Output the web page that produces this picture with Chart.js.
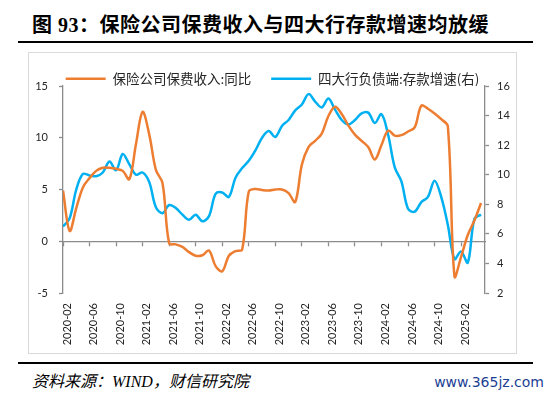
<!DOCTYPE html>
<html>
<head>
<meta charset="utf-8">
<script src="https://cdn.jsdelivr.net/npm/chart.js@4.4.0/dist/chart.umd.min.js"></script>
<style>
  html, body { margin: 0; padding: 0; background: #fff; }
  body { width: 550px; height: 398px; position: relative; overflow: hidden; }
  .title { position: absolute; left: 32px; top: 14px; font: bold 20px/22px 'Liberation Serif', 'Noto Sans CJK SC', serif; letter-spacing: 0.5px; color: #000; white-space: nowrap; }
  .rule { position: absolute; left: 18px; width: 515px; height: 2px; background: #000; }
  .box { position: absolute; left: 28px; top: 52px; width: 489px; height: 302px; border: 1px solid #d9d9d9; box-sizing: border-box; }
  .wrap { position: relative; width: 487px; height: 300px; }
  .source { position: absolute; left: 32px; top: 372px; font: italic 16px/20px 'Liberation Serif', 'Noto Sans CJK SC', serif; color: #000; white-space: nowrap; }
  .site { position: absolute; right: 6px; top: 373px; font: 14px/18px 'DejaVu Sans', sans-serif; color: #1c3f94; }
</style>
</head>
<body>
<div class="title">图 93：保险公司保费收入与四大行存款增速均放缓</div>
<div class="rule" style="top:41px"></div>
<div class="box"><div class="wrap"><canvas id="chart"></canvas></div></div>
<div class="rule" style="top:362px"></div>
<div class="source">资料来源：WIND，财信研究院</div>
<div class="site">www.365jz.com</div>

<script>
// monthly, 2020-02 .. 2025-05
const months = [
    '2020-02', '2020-03', '2020-04', '2020-05', '2020-06', '2020-07', '2020-08', '2020-09', '2020-10', '2020-11', '2020-12',
    '2021-01', '2021-02', '2021-03', '2021-04', '2021-05', '2021-06', '2021-07', '2021-08', '2021-09', '2021-10', '2021-11', '2021-12',
    '2022-01', '2022-02', '2022-03', '2022-04', '2022-05', '2022-06', '2022-07', '2022-08', '2022-09', '2022-10', '2022-11', '2022-12',
    '2023-01', '2023-02', '2023-03', '2023-04', '2023-05', '2023-06', '2023-07', '2023-08', '2023-09', '2023-10', '2023-11', '2023-12',
    '2024-01', '2024-02', '2024-03', '2024-04', '2024-05', '2024-06', '2024-07', '2024-08', '2024-09', '2024-10', '2024-11', '2024-12',
    '2025-01', '2025-02', '2025-03', '2025-04', '2025-05'
];

// 保险公司保费收入:同比 (left axis, %)
const premiumYoY = [
    4.9, 1.0, 3.2, 5.2, 6.1, 6.8, 7.1, 7.1, 7.0, 6.8,
    6.0, 9.4, 12.5, 10.3, 6.9, 5.6, -0.2, -0.3, -0.55, -1.05,
    -1.4, -1.35, -0.9, -2.4, -2.9, -1.4, -0.95, -0.8, 4.8, 5.05,
    4.95, 4.9, 5.0, 5.0, 4.65, 3.8, 7.4, 9.1, 9.7, 10.4,
    12.1, 13.0, 12.3, 11.2, 10.3, 9.7, 9.1, 7.9, 9.3, 10.7,
    10.2, 10.25, 10.6, 11.0, 13.1, 12.8, 12.35, 11.8, 11.1, -3.4,
    -1.5, 0.6, 2.0, 3.7
];

// 四大行负债端:存款增速 (right axis, %)
const depositGrowth = [
    6.5, 7.05, 9.0, 10.05, 9.95, 9.9, 10.15, 10.9, 10.3, 11.4,
    10.7, 10.0, 10.15, 9.5, 7.8, 7.4, 7.95, 7.75, 7.3, 6.95,
    7.3, 6.85, 7.2, 8.7, 8.8, 8.5, 9.8, 10.45, 10.95, 11.65,
    12.5, 12.95, 12.55, 13.3, 13.7, 14.35, 14.75, 15.45, 14.95, 14.55,
    15.15, 14.4, 13.7, 13.4, 13.7, 14.15, 14.2, 13.5, 14.1, 12.7,
    10.5, 9.55, 7.7, 7.5, 8.15, 8.5, 9.6, 8.5, 6.6, 4.3,
    4.8, 4.05, 7.0, 7.3
];

const seriesNames = ['保险公司保费收入:同比', '四大行负债端:存款增速(右)'];

const ORANGE = '#ED7D31';
const BLUE = '#00B0F0';
const AXIS_GRAY = '#8c8c8c';
const TEXT = '#262626';
const X_MAX = 63.6;

const tickFont = { family: 'Lato, "Noto Sans", sans-serif', size: 11 };

const toPoints = (values) => values.map((v, i) => ({ x: i, y: v }));

const lineSet = (label, values, color, axis) => ({
    label,
    data: toPoints(values),
    borderColor: color,
    backgroundColor: color,
    borderWidth: 2.5,
    pointRadius: 0,
    tension: 0.35,
    xAxisID: 'x',
    yAxisID: axis
});

new Chart(document.getElementById('chart'), {
    type: 'line',
    data: {
        datasets: [
            lineSet(seriesNames[0], premiumYoY, ORANGE, 'y'),
            lineSet(seriesNames[1], depositGrowth, BLUE, 'y1')
        ]
    },
    options: {
        responsive: true,
        maintainAspectRatio: false,
        animation: false,
        layout: { padding: { top: -1, left: 0, right: 0, bottom: 0 } },
        plugins: {
            tooltip: { enabled: false },
            legend: {
                position: 'top',
                maxHeight: 34,
                labels: {
                    boxWidth: 40,
                    boxHeight: 2.5,
                    padding: 20,
                    color: TEXT,
                    font: { family: '"Noto Sans CJK SC", sans-serif', size: 13.5 },
                    generateLabels: (chart) => Chart.defaults.plugins.legend.labels.generateLabels(chart)
                        .map(item => ({ ...item, lineWidth: 0 }))
                }
            }
        },
        scales: {
            // axis line + tick marks sitting on the zero line
            x: {
                type: 'linear',
                axis: 'x',
                position: { y: 0 },
                min: 0,
                max: X_MAX,
                ticks: { display: false, stepSize: 4, includeBounds: false },
                grid: { drawOnChartArea: false, tickLength: 4, tickColor: AXIS_GRAY, tickWidth: 1.3 },
                border: { color: AXIS_GRAY, width: 1.3 }
            },
            // month labels along the bottom
            xl: {
                type: 'linear',
                axis: 'x',
                position: 'bottom',
                min: 0,
                max: X_MAX,
                ticks: {
                    stepSize: 4,
                    includeBounds: false,
                    autoSkip: false,
                    minRotation: 90,
                    maxRotation: 90,
                    padding: 10,
                    labelOffset: 4,
                    color: TEXT,
                    font: tickFont,
                    callback: (v) => months[v] ?? ''
                },
                grid: { display: false, drawTicks: false },
                border: { display: false },
                afterFit: (s) => { s.height = 60; }
            },
            y: {
                position: 'left',
                min: -5,
                max: 15,
                ticks: { stepSize: 5, padding: 11, color: TEXT, font: tickFont },
                grid: { drawOnChartArea: false, tickLength: 4, tickColor: AXIS_GRAY, tickWidth: 1.3 },
                border: { color: AXIS_GRAY, width: 1.3 },
                afterFit: (s) => { s.width = 34; }
            },
            y1: {
                position: 'right',
                min: 2,
                max: 16,
                ticks: { stepSize: 2, padding: 8, color: TEXT, font: tickFont },
                grid: { drawOnChartArea: false, tickLength: 4, tickColor: AXIS_GRAY, tickWidth: 1.3 },
                border: { color: AXIS_GRAY, width: 1.3 },
                afterFit: (s) => { s.width = 31; }
            }
        }
    }
});
</script>
</body>
</html>
